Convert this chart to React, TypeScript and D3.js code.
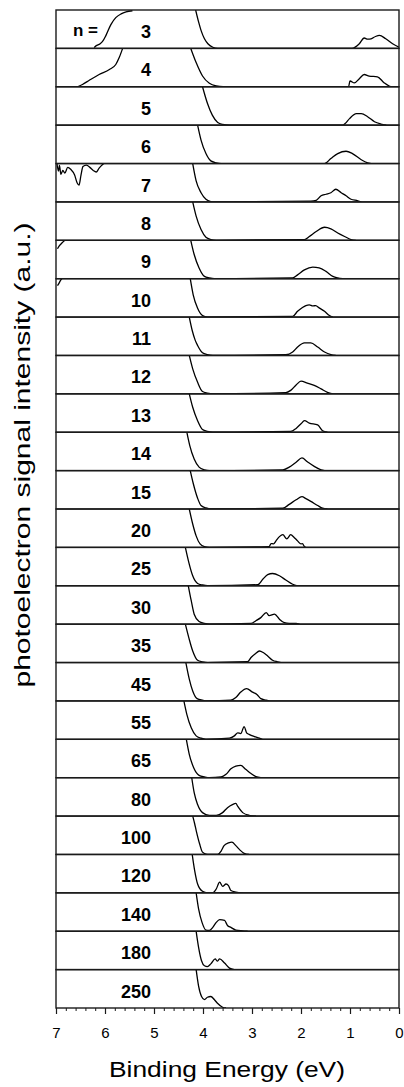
import React, { useEffect, useRef } from 'react';
import * as d3 from 'd3';

// cluster sizes, one panel each (top to bottom)
const clusterSizes = [3, 4, 5, 6, 7, 8, 9, 10, 11, 12, 13, 14, 15, 20, 25, 30, 35, 45, 55, 65, 80, 100, 120, 140, 180, 250];

// photoemission threshold edge: [binding energy (eV), intensity in panel heights]
const edgeTraces = [
  [[4.15, 1.0], [4.09, 0.69], [4.04, 0.47], [3.97, 0.25], [3.90, 0.12], [3.80, 0.03], [3.70, 0]],
  [[4.25, 1.0], [4.14, 0.63], [4.01, 0.28], [3.87, 0.09], [3.73, 0.02], [3.59, 0]],
  [[4.01, 1.0], [3.91, 0.57], [3.81, 0.26], [3.70, 0.07], [3.60, 0.02], [3.46, 0]],
  [[4.11, 1.0], [4.04, 0.61], [3.94, 0.26], [3.84, 0.07], [3.73, 0.02], [3.63, 0]],
  [[4.21, 1.0], [4.14, 0.55], [4.04, 0.24], [3.94, 0.07], [3.84, 0.01], [3.77, 0]],
  [[4.21, 1.0], [4.14, 0.63], [4.04, 0.28], [3.94, 0.08], [3.84, 0.02], [3.73, 0]],
  [[4.25, 1.0], [4.18, 0.63], [4.08, 0.28], [3.97, 0.06], [3.87, 0.02], [3.77, 0]],
  [[4.26, 1.0], [4.20, 0.58], [4.11, 0.23], [4.01, 0.04], [3.91, 0]],
  [[4.28, 1.0], [4.22, 0.65], [4.16, 0.40], [4.11, 0.26], [4.01, 0.07], [3.91, 0.02], [3.80, 0]],
  [[4.28, 1.0], [4.21, 0.65], [4.11, 0.30], [4.01, 0.06], [3.91, 0.02], [3.80, 0]],
  [[4.28, 1.0], [4.21, 0.65], [4.11, 0.30], [4.01, 0.07], [3.91, 0.02], [3.80, 0]],
  [[4.33, 1.0], [4.27, 0.65], [4.18, 0.30], [4.08, 0.09], [3.97, 0.02], [3.87, 0]],
  [[4.26, 1.0], [4.20, 0.67], [4.11, 0.28], [4.04, 0.09], [3.94, 0.03], [3.84, 0]],
  [[4.28, 1.0], [4.21, 0.61], [4.14, 0.30], [4.06, 0.09], [3.97, 0.02], [3.87, 0]],
  [[4.36, 1.0], [4.29, 0.61], [4.21, 0.26], [4.11, 0.06], [4.01, 0.02], [3.91, 0]],
  [[4.30, 1.0], [4.24, 0.61], [4.18, 0.26], [4.08, 0.07], [3.97, 0.02], [3.87, 0]],
  [[4.36, 1.0], [4.29, 0.65], [4.21, 0.30], [4.11, 0.06], [4.01, 0.02], [3.91, 0]],
  [[4.35, 1.0], [4.28, 0.57], [4.21, 0.26], [4.12, 0.06], [4.01, 0.02], [3.91, 0]],
  [[4.39, 1.0], [4.33, 0.65], [4.24, 0.30], [4.14, 0.09], [4.04, 0.03], [3.94, 0]],
  [[4.34, 1.0], [4.28, 0.61], [4.19, 0.26], [4.08, 0.06], [3.97, 0.02], [3.87, 0]],
  [[4.23, 1.0], [4.18, 0.61], [4.11, 0.30], [4.01, 0.09], [3.87, 0.02]],
  [[4.21, 1.0], [4.17, 0.80], [4.14, 0.63], [4.07, 0.28], [4.01, 0.06], [3.94, 0.01], [3.87, 0]],
  [[4.22, 1.0], [4.17, 0.58], [4.11, 0.23], [4.01, 0.04], [3.91, 0]],
  [[4.14, 1.0], [4.09, 0.58], [4.02, 0.23], [3.94, 0.03], [3.87, 0.02]],
  [[4.14, 1.0], [4.09, 0.58], [4.03, 0.23], [3.97, 0.10], [3.91, 0.08]],
  [[4.14, 1.0], [4.09, 0.57], [4.03, 0.30], [3.97, 0.22]],
];

// valence band feature
const bandTraces = [
  [[0.96, 0], [0.81, 0.12], [0.71, 0.27], [0.64, 0.24], [0.57, 0.25], [0.48, 0.31], [0.40, 0.34], [0.27, 0.25], [0.13, 0.12], [0.0, 0.03]],
  [[1.03, 0], [1.00, 0.15], [0.91, 0.10], [0.81, 0.21], [0.71, 0.32], [0.61, 0.28], [0.44, 0.26], [0.30, 0.10], [0.20, 0.02], [0.13, 0]],
  [[1.15, 0], [1.10, 0.04], [1.01, 0.17], [0.87, 0.30], [0.77, 0.30], [0.64, 0.22], [0.50, 0.09], [0.37, 0.03], [0.26, 0]],
  [[1.52, 0], [1.39, 0.13], [1.25, 0.26], [1.08, 0.32], [0.95, 0.26], [0.77, 0.10], [0.64, 0.02], [0.57, 0]],
  [[1.80, 0.02], [1.69, 0.04], [1.59, 0.16], [1.49, 0.20], [1.39, 0.24], [1.29, 0.33], [1.18, 0.24], [1.08, 0.16], [0.98, 0.07], [0.84, 0.03], [0.77, 0]],
  [[1.93, 0.02], [1.83, 0.10], [1.69, 0.23], [1.52, 0.34], [1.39, 0.30], [1.25, 0.19], [1.08, 0.08], [0.98, 0.02], [0.88, 0]],
  [[2.17, 0.02], [2.07, 0.10], [1.93, 0.23], [1.76, 0.30], [1.63, 0.28], [1.49, 0.19], [1.35, 0.06], [1.25, 0.02], [1.15, 0]],
  [[2.17, 0.02], [2.07, 0.15], [1.97, 0.25], [1.90, 0.30], [1.83, 0.32], [1.76, 0.29], [1.70, 0.30], [1.63, 0.24], [1.52, 0.15], [1.42, 0.04], [1.35, 0]],
  [[2.31, 0.02], [2.17, 0.09], [2.07, 0.22], [1.93, 0.33], [1.80, 0.33], [1.66, 0.22], [1.52, 0.09], [1.39, 0.02], [1.29, 0]],
  [[2.31, 0.03], [2.21, 0.09], [2.10, 0.23], [2.00, 0.33], [1.87, 0.28], [1.73, 0.22], [1.59, 0.13], [1.46, 0.04], [1.35, 0]],
  [[2.21, 0.02], [2.10, 0.10], [2.00, 0.22], [1.93, 0.30], [1.83, 0.24], [1.66, 0.19], [1.56, 0.04], [1.46, 0]],
  [[2.37, 0.02], [2.24, 0.09], [2.10, 0.22], [1.98, 0.33], [1.87, 0.23], [1.73, 0.11], [1.59, 0.02], [1.52, 0]],
  [[2.37, 0.02], [2.24, 0.12], [2.10, 0.24], [1.98, 0.32], [1.90, 0.27], [1.80, 0.20], [1.66, 0.09], [1.56, 0.02], [1.46, 0]],
  [[2.65, 0.02], [2.61, 0.10], [2.56, 0.09], [2.51, 0.17], [2.44, 0.28], [2.37, 0.33], [2.29, 0.22], [2.21, 0.33], [2.14, 0.26], [2.07, 0.17], [2.00, 0.09], [1.97, 0.10], [1.93, 0.02], [1.90, 0]],
  [[2.88, 0.03], [2.78, 0.17], [2.68, 0.29], [2.58, 0.32], [2.44, 0.26], [2.31, 0.15], [2.17, 0.04], [2.07, 0]],
  [[3.02, 0.02], [2.92, 0.09], [2.82, 0.17], [2.71, 0.30], [2.65, 0.22], [2.54, 0.26], [2.44, 0.13], [2.34, 0.04], [2.24, 0.02], [2.10, 0.02], [2.03, 0]],
  [[3.09, 0.02], [3.02, 0.13], [2.93, 0.23], [2.85, 0.30], [2.77, 0.26], [2.68, 0.17], [2.58, 0.06], [2.48, 0.02], [2.41, 0]],
  [[3.43, 0.02], [3.33, 0.09], [3.23, 0.23], [3.11, 0.32], [2.99, 0.23], [2.90, 0.17], [2.82, 0.06], [2.71, 0.02], [2.65, 0]],
  [[3.46, 0.03], [3.36, 0.09], [3.29, 0.17], [3.23, 0.15], [3.16, 0.33], [3.11, 0.17], [3.06, 0.13], [2.95, 0.07], [2.85, 0.03], [2.79, 0]],
  [[3.63, 0.02], [3.53, 0.09], [3.43, 0.23], [3.33, 0.30], [3.23, 0.32], [3.13, 0.22], [3.02, 0.11], [2.92, 0.03], [2.82, 0]],
  [[3.73, 0.02], [3.60, 0.09], [3.50, 0.22], [3.40, 0.30], [3.33, 0.33], [3.29, 0.25], [3.19, 0.09], [3.06, 0.02], [2.92, 0]],
  [[3.70, 0], [3.63, 0.09], [3.57, 0.23], [3.48, 0.30], [3.41, 0.32], [3.33, 0.23], [3.25, 0.12], [3.16, 0.03], [3.06, 0]],
  [[3.80, 0], [3.73, 0.10], [3.66, 0.28], [3.60, 0.17], [3.53, 0.23], [3.48, 0.19], [3.43, 0.06], [3.33, 0.02], [3.19, 0]],
  [[3.80, 0.10], [3.73, 0.23], [3.66, 0.30], [3.56, 0.28], [3.50, 0.15], [3.43, 0.10], [3.33, 0.03], [3.19, 0.01], [3.09, 0]],
  [[3.84, 0.15], [3.75, 0.28], [3.71, 0.22], [3.66, 0.28], [3.56, 0.17], [3.46, 0.04], [3.36, 0]],
  [[3.91, 0.28], [3.84, 0.30], [3.77, 0.22], [3.71, 0.13], [3.60, 0.02], [3.53, 0]],
];

// high binding energy tails that show in a few panels (index -> trace)
const tailTraces: Record<number, number[][]> = {
  0: [[6.22, 0.02], [6.20, 0.05], [6.10, 0.12], [6.05, 0.18], [5.98, 0.34], [5.88, 0.62], [5.78, 0.80], [5.67, 0.90], [5.57, 0.95], [5.44, 0.98]],
  1: [[6.56, 0], [6.46, 0.06], [6.32, 0.17], [6.12, 0.32], [5.91, 0.45], [5.78, 0.58], [5.71, 0.76], [5.64, 1.0]],
  4: [[6.98, 1.0], [6.95, 0.80], [6.93, 0.95], [6.90, 0.72], [6.86, 0.82], [6.82, 0.75], [6.76, 0.90], [6.70, 0.85], [6.62, 0.70], [6.57, 0.50], [6.53, 0.44], [6.49, 0.70], [6.45, 0.92], [6.38, 0.96], [6.31, 0.90], [6.24, 0.82], [6.18, 0.78], [6.12, 0.88], [6.06, 0.96], [6.02, 1.0]],
  6: [[6.97, 0.78], [6.93, 0.86], [6.88, 0.93], [6.82, 1.0]],
  7: [[6.97, 0.82], [6.94, 0.88], [6.91, 0.95], [6.88, 1.0]],
};

const majorTicks = [7, 6, 5, 4, 3, 2, 1, 0];
const minorTicks = d3.range(0, 7.001, 0.2);

const FONT = "'Liberation Sans', Arial, Helvetica, sans-serif";
const X0 = 56, X1 = 399, TOP = 10, BOTTOM = 1008;

export default function App() {
  const ref = useRef<SVGSVGElement>(null);

  useEffect(() => {
    const svg = d3.select(ref.current);
    svg.selectAll('*').remove();

    const x = d3.scaleLinear().domain([7, 0]).range([X0, X1]);
    const rows = d3.scaleBand<number>().domain(d3.range(clusterSizes.length)).range([TOP, BOTTOM]);
    const ph = rows.bandwidth();

    const defs = svg.append('defs');
    const g = svg.append('g');

    clusterSizes.forEach((n, i) => {
      const top = rows(i) as number;
      const y = d3.scaleLinear().domain([0, 1]).range([top + ph, top]);
      const line = d3.line<number[]>().x(d => x(d[0])).y(d => y(d[1])).curve(d3.curveMonotoneX);

      defs.append('clipPath').attr('id', 'clip' + i)
        .append('rect').attr('x', X0).attr('y', top).attr('width', X1 - X0).attr('height', ph);

      const pg = g.append('g').attr('clip-path', `url(#clip${i})`);
      pg.append('path')
        .attr('d', line([...edgeTraces[i], ...bandTraces[i]]))
        .attr('fill', 'none').attr('stroke', '#000').attr('stroke-width', 1.3);
      if (tailTraces[i]) {
        pg.append('path')
          .attr('d', line(tailTraces[i]))
          .attr('fill', 'none').attr('stroke', '#000').attr('stroke-width', 1.3);
      }

      g.append('rect')
        .attr('x', X0).attr('y', top).attr('width', X1 - X0).attr('height', ph)
        .attr('fill', 'none').attr('stroke', '#1a1a1a').attr('stroke-width', 1.4);

      g.append('text')
        .attr('x', 151).attr('y', top + 28)
        .attr('text-anchor', 'end')
        .attr('font-family', FONT).attr('font-weight', 'bold').attr('font-size', 18)
        .text(n);
    });

    g.append('text')
      .attr('x', 73).attr('y', TOP + 26)
      .attr('font-family', FONT).attr('font-weight', 'bold').attr('font-size', 17)
      .text('n =');

    // x axis: minor then major ticks
    const minor = d3.axisBottom(x).tickValues(minorTicks).tickSize(3).tickFormat(() => '');
    g.append('g').attr('transform', `translate(0,${BOTTOM})`).call(minor)
      .call(s => s.select('.domain').remove())
      .call(s => s.selectAll('line').attr('stroke', '#1a1a1a'));

    const major = d3.axisBottom(x).tickValues(majorTicks).tickSize(6).tickPadding(13).tickFormat(d3.format('d'));
    g.append('g').attr('transform', `translate(0,${BOTTOM})`).call(major)
      .call(s => s.select('.domain').remove())
      .call(s => s.selectAll('line').attr('stroke', '#1a1a1a').attr('stroke-width', 1.2))
      .call(s => s.selectAll('text').attr('font-family', FONT).attr('font-size', 15).attr('fill', '#000'));

    g.append('text')
      .attr('x', 227).attr('y', 1077)
      .attr('text-anchor', 'middle')
      .attr('font-family', FONT).attr('font-size', 22)
      .attr('textLength', 236).attr('lengthAdjust', 'spacingAndGlyphs')
      .text('Binding Energy (eV)');

    g.append('text')
      .attr('transform', 'translate(30,455) rotate(-90)')
      .attr('text-anchor', 'middle')
      .attr('font-family', FONT).attr('font-size', 22)
      .attr('textLength', 465).attr('lengthAdjust', 'spacingAndGlyphs')
      .text('photoelectron signal intensity (a.u.)');
  }, []);

  return (
    <svg ref={ref} width={404} height={1087}
      style={{ position: 'absolute', left: 0, top: 0, background: '#fff' }} />
  );
}
